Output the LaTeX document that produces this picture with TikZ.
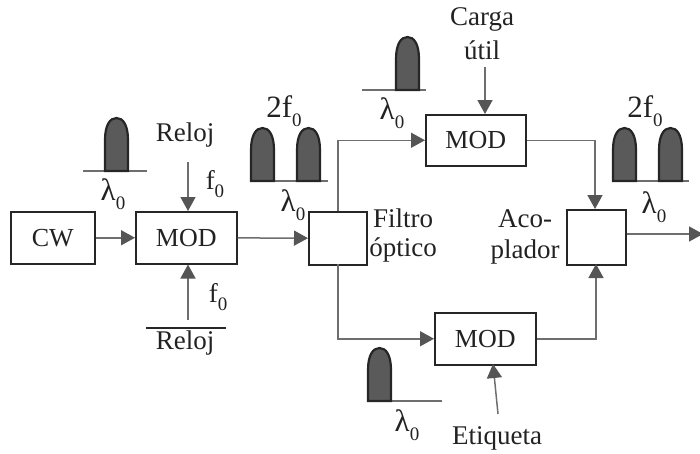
\documentclass[tikz,border=0pt]{standalone}
\usepackage{fontspec}
\setmainfont{Liberation Serif}
\usetikzlibrary{arrows.meta}

\definecolor{linegray}{HTML}{6E6E6E}
\definecolor{tipgray}{HTML}{555555}
\definecolor{pulsegray}{HTML}{5A5A5A}
\definecolor{textgray}{HTML}{222222}

\newcommand{\subz}{\raisebox{-0.28em}{\fontsize{19}{19}\selectfont 0}}

\tikzset{
    block/.style={draw=black!85, line width=1.5pt, anchor=north west, inner sep=0pt, font=\fontsize{26}{26}\selectfont, text=textgray},
    tag/.style={inner sep=0pt, font=\fontsize{27}{27}\selectfont, text=textgray},
    bigtag/.style={inner sep=0pt, font=\fontsize{31}{31}\selectfont, text=textgray},
    wire/.style={draw=linegray, line width=1.5pt, -{Triangle[length=14pt,width=15pt,color=tipgray]}},
    pulse/.style={draw=black!85, line width=2.2pt, fill=pulsegray},
    base/.style={draw=linegray, line width=1.3pt}
}

\begin{document}
\begin{tikzpicture}[x=1pt,y=-1pt]
    \useasboundingbox (0,0) rectangle (700,453);

    % Blocks
    \node[block, minimum width=84pt, minimum height=52pt] (cw) at (10,211) {CW};
    \node[block, minimum width=101pt, minimum height=52pt] (modclk) at (135,211) {MOD};
    \node[block, minimum width=58pt, minimum height=53pt] (filtro) at (308,211) {};
    \node[block, minimum width=100pt, minimum height=51pt] (modcarga) at (425,114) {MOD};
    \node[block, minimum width=101pt, minimum height=52pt] (modetq) at (434,312) {MOD};
    \node[block, minimum width=59pt, minimum height=55pt] (acop) at (566,209) {};

    % Labels
    \node[tag] (reloja) at (185,135) {Reloj};
    \node[tag] (relojb) at (185,343) {Reloj};
    \node[tag] (fa) at (215,184) {f\subz};
    \node[tag] (fb) at (218,297) {f\subz};
    \node[tag] (carga) at (482,19) {Carga};
    \node[tag] (util) at (482,50) {útil};
    \node[tag] (etq) at (497,438) {Etiqueta};
    \node[tag] (filt) at (403,218) {Filtro};
    \node[tag] (opt) at (403,250) {óptico};
    \node[tag] (aco) at (525,219) {Aco-};
    \node[tag] (plad) at (525,252) {plador};

    \node[bigtag] (dosfa) at (284,111) {2f\subz};
    \node[bigtag] (dosfb) at (645,111) {2f\subz};
    \node[bigtag] (lama) at (113,194) {λ\subz};
    \node[bigtag] (lamb) at (293,205) {λ\subz};
    \node[bigtag] (lamc) at (392,113) {λ\subz};
    \node[bigtag] (lamd) at (654,207) {λ\subz};
    \node[bigtag] (lame) at (407,425) {λ\subz};

    % Free ends
    \coordinate (clka) at (188,162);
    \coordinate (clkb) at (188,320);
    \coordinate (cargaend) at (485,67);
    \coordinate (etqend) at (498,414);
    \coordinate (salida) at (703,234);

    % Connectors
    \draw[wire] (cw) -- (modclk);
    \draw[wire] (modclk) -- (filtro);
    \draw[wire] (clka) -- (clka |- modclk.north);
    \draw[wire] (clkb) -- (clkb |- modclk.south);
    \draw[wire] (cargaend) -- (cargaend |- modcarga.north);
    \draw[wire] (etqend) -- (493,364);
    \draw[wire] (338,211) |- (modcarga);
    \draw[wire] (338,264) |- (modetq);
    \draw[wire] (modcarga) -| (595,209);
    \draw[wire] (modetq) -| (596,264);
    \draw[wire] (acop.east |- salida) -- (salida);

    % Bar over the lower clock
    \draw[line width=1.3pt, black!85] (146,328) -- (226,328);

    % Pulse base lines
    \foreach \xa/\xb/\y in {83/147/171, 251/328/181, 362/426/90, 613/689/181, 368/442/401}
    {
        \draw[base] (\xa,\y) -- (\xb,\y);
    }

    % Pulses
    \foreach \x/\y in {105/171, 251/181, 297/181, 396/90, 613/181, 659/181, 368/401}
    {
        \draw[pulse] (\x,\y) -- (\x,\y-31) .. controls (\x,\y-46) and (\x+5,\y-53) .. (\x+11.5,\y-53)
            .. controls (\x+18,\y-53) and (\x+23,\y-46) .. (\x+23,\y-31) -- (\x+23,\y) -- cycle;
    }
\end{tikzpicture}
\end{document}
